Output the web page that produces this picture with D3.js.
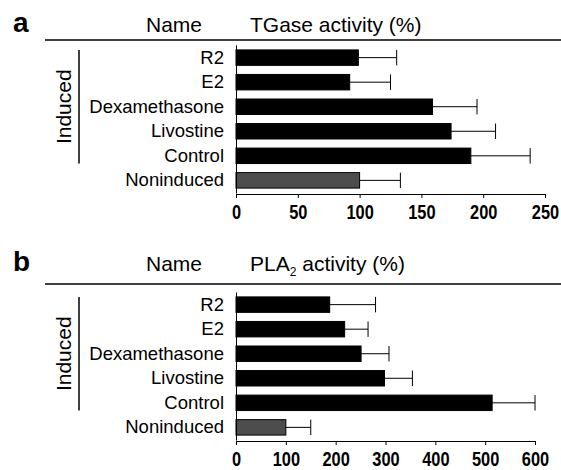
<!DOCTYPE html>
<html>
<head>
<meta charset="utf-8">
<script src="https://cdn.jsdelivr.net/npm/d3@7"></script>
<style>
  html, body { margin: 0; padding: 0; background: #fff; }
  svg { display: block; font-family: "Liberation Sans", Arial, sans-serif; }
</style>
</head>
<body>
<svg width="561" height="470"></svg>
<script>
// bar names, bottom row is the non-induced reference
var categories = ["R2", "E2", "Dexamethasone", "Livostine", "Control", "Noninduced"];
var inducedGroup = ["R2", "E2", "Dexamethasone", "Livostine", "Control"];

// panel a : TGase activity (%)
var tgaseValues = [99, 92, 159, 174, 190, 100];
var tgaseErrors = [31, 33, 36, 36, 48, 33];
var tgaseTicks  = [0, 50, 100, 150, 200, 250];

// panel b : PLA2 activity (%)
var plaValues = [188, 218, 251, 298, 514, 100];
var plaErrors = [92, 47, 56, 56, 86, 50];
var plaTicks  = [0, 100, 200, 300, 400, 500, 600];

var svg = d3.select('svg');

var drawPanel = function (o) {
  var g = svg.append('g');

  var x = d3.scaleLinear().domain([0, o.ticks[o.ticks.length - 1]]).range([236, o.xEnd]);
  var y = d3.scaleBand().domain(categories).range([o.top, o.top + 148])
    .paddingInner(0.37).paddingOuter(0.2);

  var rows = categories.map(function (c, i) {
    return { name: c, v: o.values[i], e: o.errors[i] };
  });

  // panel letter + header
  g.append('text').attr('x', 13).attr('y', o.headY)
    .attr('font-size', 28).attr('font-weight', 'bold').text(o.letter);
  g.append('text').attr('x', 146).attr('y', o.headY).attr('font-size', 21).text('Name');
  var h = g.append('text').attr('x', 250).attr('y', o.headY).attr('font-size', 21);
  h.append('tspan').text(o.title);
  if (o.sub) {
    h.append('tspan').attr('font-size', 12).attr('dy', 5).text(o.sub);
    h.append('tspan').attr('dy', -5).text(o.rest);
  }
  g.append('line').attr('x1', 45).attr('x2', 561)
    .attr('y1', o.ruleY).attr('y2', o.ruleY)
    .attr('stroke', '#000').attr('stroke-width', 1.5);

  // error bars (drawn under bars)
  g.selectAll('line.err').data(rows).enter().append('line')
    .attr('class', 'err')
    .attr('x1', function (d) { return x(d.v); })
    .attr('x2', function (d) { return x(d.v + d.e); })
    .attr('y1', function (d) { return y(d.name) + y.bandwidth() / 2; })
    .attr('y2', function (d) { return y(d.name) + y.bandwidth() / 2; })
    .attr('stroke', '#000').attr('stroke-width', 1);
  g.selectAll('line.cap').data(rows).enter().append('line')
    .attr('class', 'cap')
    .attr('x1', function (d) { return x(d.v + d.e); })
    .attr('x2', function (d) { return x(d.v + d.e); })
    .attr('y1', function (d) { return y(d.name); })
    .attr('y2', function (d) { return y(d.name) + y.bandwidth(); })
    .attr('stroke', '#000').attr('stroke-width', 1);

  // bars
  g.selectAll('rect').data(rows).enter().append('rect')
    .attr('x', x(0))
    .attr('y', function (d) { return y(d.name); })
    .attr('width', function (d) { return x(d.v) - x(0); })
    .attr('height', y.bandwidth())
    .attr('fill', function (d) { return d.name == 'Noninduced' ? '#4d4d4d' : '#000'; })
    .attr('stroke', '#000').attr('stroke-width', 1);

  // category axis
  var ya = g.append('g').attr('transform', 'translate(' + x(0) + ',0)')
    .call(d3.axisLeft(y).tickSize(0).tickPadding(12));
  ya.select('.domain').attr('stroke', '#000');
  ya.selectAll('text').attr('font-size', 18.5).attr('font-family', null).attr('fill', '#000');

  // value axis
  var xa = g.append('g').attr('transform', 'translate(0,' + (o.top + 149) + ')')
    .call(d3.axisBottom(x).tickValues(o.ticks).tickSize(4).tickSizeOuter(0).tickPadding(7));
  xa.select('.domain').attr('stroke', '#000');
  xa.selectAll('line').attr('stroke', '#000');
  xa.selectAll('text').attr('font-size', 20).attr('font-weight', 'bold')
    .attr('font-family', null).attr('fill', '#000')
    .attr('transform', 'scale(0.82,1)');

  // "Induced" bracket
  var gy0 = y(inducedGroup[0]);
  var gy1 = y(inducedGroup[inducedGroup.length - 1]) + y.bandwidth();
  g.append('line').attr('x1', 79).attr('x2', 79).attr('y1', gy0).attr('y2', gy1)
    .attr('stroke', '#000').attr('stroke-width', 1.5);
  g.append('text')
    .attr('transform', 'translate(71,' + (gy0 + gy1) / 2 + ') rotate(-90)')
    .attr('text-anchor', 'middle').attr('font-size', 21).text('Induced');
};

drawPanel({ letter: 'a', headY: 32, ruleY: 40, top: 45, xEnd: 545,
  title: 'TGase activity (%)', values: tgaseValues, errors: tgaseErrors, ticks: tgaseTicks });
drawPanel({ letter: 'b', headY: 271, ruleY: 284, top: 292, xEnd: 535,
  title: 'PLA', sub: '2', rest: ' activity (%)', values: plaValues, errors: plaErrors, ticks: plaTicks });
</script>
</body>
</html>
